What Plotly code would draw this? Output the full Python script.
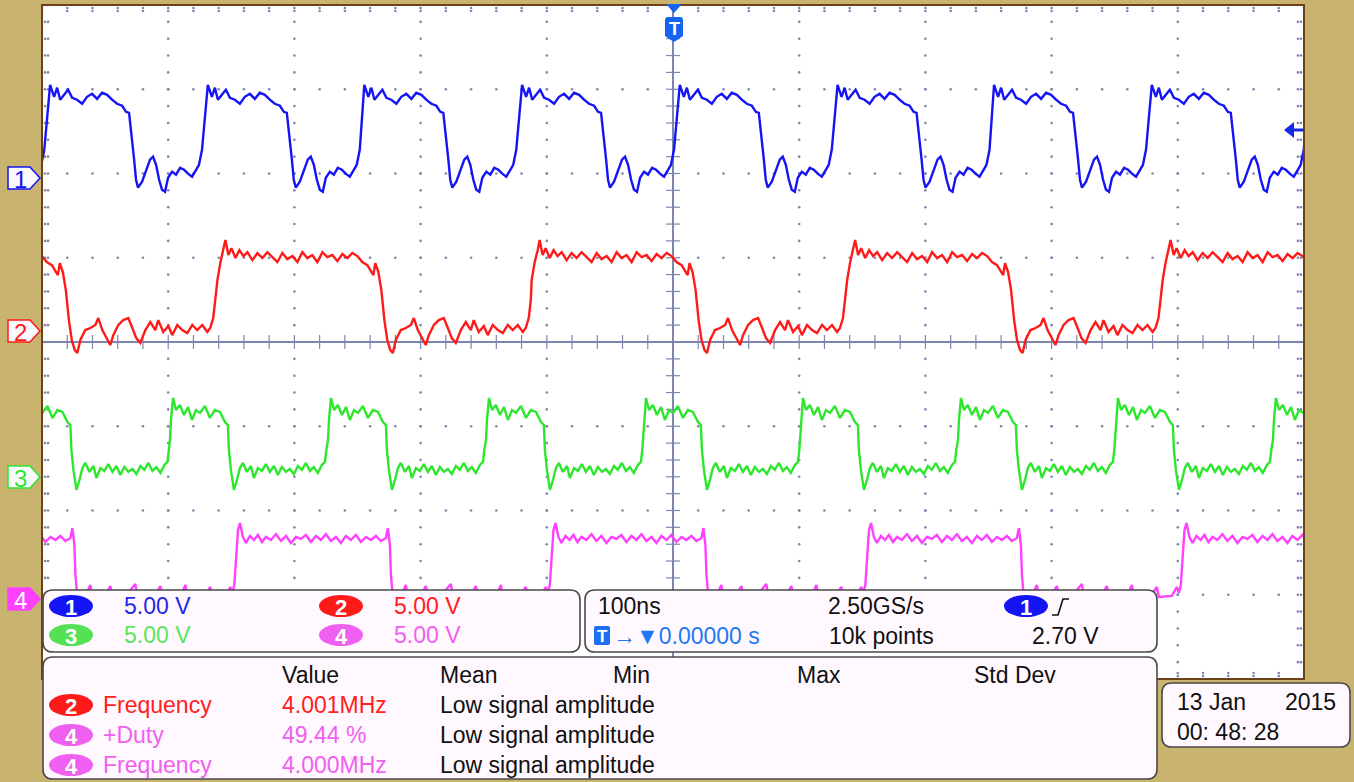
import plotly.graph_objects as go

# ---------------- data ----------------
# time in ns (100 ns/div, trigger at 0), voltage in V (5 V/div)
# one period of each channel, times relative to a rising edge (mid level)
ch1_tmpl_t = [-121.6, -118.4, -116.0, -113.6, -110.4, -107.3, -104.1, -100.2, -96.2, -92.3,
              -88.3, -84.3, -80.4, -76.4, -72.5, -68.5, -64.5, -61.4, -59.0, -57.4,
              -55.0, -53.5, -51.9, -48.7, -45.5, -42.4, -40.0, -37.6, -35.2, -32.9,
              -30.5, -28.1, -24.9, -21.8, -18.6, -15.4, -12.3, -9.1, -5.9, -3.6,
              -1.2, 0.4, 2.0]
ch1_tmpl_v = [5.51, 4.80, 5.34, 4.63, 4.92, 5.22, 4.74, 4.63, 4.39, 4.80,
              4.98, 4.68, 5.04, 4.92, 4.63, 4.39, 4.27, 3.91, 3.85, 2.85,
              1.07, -0.12, -0.59, -0.24, 0.47, 1.07, 1.25, 0.77, -0.12, -0.71,
              -0.83, 0.0, 0.36, 0.18, 0.59, 0.47, 0.24, 0.06, 0.47, 0.77,
              1.66, 3.14, 4.63]
ch1_rises = [-497, -372, -247, -123, 2, 127, 252, 376, 501]

ch2_tmpl_t = [0.0, 2.4, 4.8, 6.3, 8.7, 11.1, 14.3, 17.4, 20.6, 23.8, 27.7, 31.7, 35.6, 39.6,
              43.6, 47.5, 51.5, 55.4, 59.4, 63.4, 67.3, 71.3, 75.2, 79.2, 83.2, 87.1, 91.1,
              95.0, 99.0, 103.0, 106.9, 110.9, 114.8, 118.8, 121.2, 123.6, 125.1, 127.5,
              129.9, 132.3, 134.6, 137.0, 139.0, 141.4, 145.3, 149.3, 153.3, 155.6, 158.8,
              162.8, 165.1, 167.5, 171.5, 175.4, 179.4, 182.6, 185.7, 188.9, 192.9, 196.8,
              200.8, 203.1, 207.1, 211.1, 214.2, 218.2, 222.2, 226.1, 230.1, 234.0, 238.0,
              242.0, 244.3, 246.7, 248.3]
ch2_tmpl_v = [3.02, 4.09, 4.80, 5.40, 4.51, 4.92, 4.33, 4.80, 4.45, 4.68, 4.21, 4.63, 4.33, 4.68,
              4.39, 4.09, 4.63, 4.27, 4.45, 4.09, 4.68, 4.33, 4.51, 4.09, 4.68, 4.39, 4.51,
              4.15, 4.57, 4.33, 4.63, 4.45, 4.09, 3.91, 3.62, 3.32, 4.03, 3.50,
              2.43, 0.65, -0.53, -1.13, -1.30, -0.53, 0.06, 0.18, 0.36, 0.77, 0.06,
              -0.53, -0.83, -0.24, 0.36, 0.65, 0.77, 0.18, -0.42, -0.71, 0.06, 0.53,
              0.06, 0.65, -0.06, 0.30, -0.24, 0.36, 0.06, -0.12, 0.36, 0.06, 0.36,
              -0.06, 0.18, 0.77, 1.84]
ch2_rises = [-611, -361, -112, 138, 388]

ch3_tmpl_t = [0.0, 0.8, 2.4, 4.8, 7.9, 11.1, 14.3, 17.4, 20.6, 23.8, 27.7, 31.7, 35.6, 39.6,
              43.6, 45.9, 46.7, 48.3, 50.7, 53.1, 55.4, 57.8, 61.0, 64.2, 66.5, 69.7, 72.9,
              76.0, 79.2, 82.4, 85.5, 88.7, 91.9, 95.0, 98.2, 101.4, 104.5, 107.7, 110.9,
              114.0, 117.2, 120.4, 122.8, 123.9]
ch3_tmpl_v = [2.13, 3.32, 4.63, 3.91, 4.21, 3.62, 4.09, 3.32, 3.91, 3.74, 4.15, 3.44, 3.91, 3.80,
              3.20, 3.02, 1.54, 0.36, -0.83, -0.24, 0.47, 0.77, 0.24, 0.59, -0.12, 0.47, 0.30,
              0.71, 0.24, 0.59, 0.06, 0.53, 0.24, 0.42, 0.12, 0.59, 0.36, 0.77, 0.30,
              0.53, 0.18, 0.65, 0.83, 1.54]
ch3_rises = [-523.4, -398.6, -273.4, -148.2, -23.8, 100.6, 225.8, 350.2, 475.4]

ch4_tmpl_t = [0.0, 0.8, 1.6, 3.2, 5.5, 7.9, 11.1, 14.3, 17.4, 20.6, 23.8, 27.7, 31.7, 35.6,
              39.6, 43.6, 47.5, 51.5, 55.4, 59.4, 63.4, 67.3, 71.3, 75.2, 79.2, 83.2, 87.1,
              91.1, 95.0, 99.0, 103.0, 106.9, 110.9, 114.8, 118.8, 120.4, 122.0, 122.8, 124.3,
              130.7, 134.6, 136.2, 146.5, 150.5, 152.1, 162.4, 170.3, 171.9, 186.1, 190.1,
              191.7, 205.9, 209.9, 211.5, 225.7, 229.7, 231.3, 241.6, 245.5, 247.1, 248.7]
ch4_tmpl_v = [2.31, 3.50, 4.09, 4.51, 3.68, 3.32, 3.74, 3.50, 3.80, 3.38, 3.68, 3.50, 3.85, 3.44,
              3.74, 3.32, 3.68, 3.56, 3.80, 3.38, 3.74, 3.50, 3.85, 3.44, 3.68, 3.32, 3.74,
              3.50, 3.80, 3.38, 3.68, 3.50, 3.74, 3.44, 3.62, 4.21, 3.20, 1.42, 0.12,
              0.18, 0.83, 0.12, 0.24, 0.77, 0.12, 0.18, 0.89, 0.12, 0.24, 0.77,
              0.18, 0.12, 0.83, 0.18, 0.24, 0.71, 0.12, 0.18, 0.71, 0.36, 0.83]
ch4_rises = [-596.3, -346.3, -96.3, 153.7, 403.7]

channels = ["1", "2", "3", "4"]
volts_per_div = [5.0, 5.0, 5.0, 5.0]
ground_div = [1.95, 0.13, -1.59, -3.05]       # channel ground marker positions (divisions)
trace_colors = ["#1414F5", "#FF1A1A", "#2EE62E", "#FF40FF"]
text_colors = ["#1E28E6", "#FF2020", "#5AE65A", "#F060F0"]

meas_src = ["2", "4", "4"]
meas_name = ["Frequency", "+Duty", "Frequency"]
meas_value = ["4.001MHz", "49.44 %", "4.000MHz"]
meas_mean = ["Low signal amplitude"] * 3
meas_headers = ["Value", "Mean", "Min", "Max", "Std Dev"]

# ---------------- geometry helpers ----------------
PL, PR, PT, PB = 42, 1304, 5, 679
W, H = PR - PL, PB - PT


def xp(px):
    return (px - PL) / W


def yp(py):
    return (PB - py) / H


def build(rises, tt, tv, ch):
    t, v = [], []
    for r in rises:
        for a, b in zip(tt, tv):
            t.append(r + a)
            v.append(ground_div[ch] + b / volts_per_div[ch])
    return t, v


fig = go.Figure()

# ---------------- graticule dots ----------------
dot_x, dot_y = [], []
for k in range(-4, 5):
    if k == 0:
        continue
    for j in range(41):
        dot_x.append(k * 100)
        dot_y.append(-4 + 0.2 * j)
for k in range(-3, 4):
    if k == 0:
        continue
    for j in range(51):
        dot_x.append(-500 + 20 * j)
        dot_y.append(k)
# edge ticks
for j in range(41):
    yy = -4 + 0.2 * j
    for xx in (-497.6, -495.2, 495.2, 497.6):
        dot_x.append(xx)
        dot_y.append(yy)
for j in range(51):
    xx = -500 + 20 * j
    for yy in (3.964, 3.929, -3.929, -3.964):
        dot_x.append(xx)
        dot_y.append(yy)
fig.add_trace(go.Scatter(x=dot_x, y=dot_y, mode="markers",
                         marker=dict(size=2.6, color="#7E86B0"), hoverinfo="skip"))
# center-line ticks
fig.add_trace(go.Scatter(x=[-500 + 20 * j for j in range(51)], y=[0] * 51, mode="markers",
                         marker=dict(symbol="line-ns", size=10, line=dict(width=1.2, color="#7E86B0")),
                         hoverinfo="skip"))
fig.add_trace(go.Scatter(x=[0] * 41, y=[-4 + 0.2 * j for j in range(41)], mode="markers",
                         marker=dict(symbol="line-ew", size=10, line=dict(width=1.2, color="#7E86B0")),
                         hoverinfo="skip"))

# ---------------- waveforms ----------------
for ch, (rises, tt, tv) in enumerate([(ch1_rises, ch1_tmpl_t, ch1_tmpl_v),
                                       (ch2_rises, ch2_tmpl_t, ch2_tmpl_v),
                                       (ch3_rises, ch3_tmpl_t, ch3_tmpl_v),
                                       (ch4_rises, ch4_tmpl_t, ch4_tmpl_v)]):
    t, v = build(rises, tt, tv, ch)
    fig.add_trace(go.Scatter(x=t, y=v, mode="lines",
                             line=dict(color=trace_colors[ch], width=2.4), hoverinfo="skip"))

shapes = []
ann = []


def P(px, py):
    return f"{xp(px):.5f},{yp(py):.5f}"


def path(points, close=True):
    s = "M " + " L ".join(P(a, b) for a, b in points)
    return s + (" Z" if close else "")


def rrect(x0, y0, x1, y1, r):
    return ("M " + P(x0 + r, y0) + " L " + P(x1 - r, y0) + " Q " + P(x1, y0) + " " + P(x1, y0 + r) +
            " L " + P(x1, y1 - r) + " Q " + P(x1, y1) + " " + P(x1 - r, y1) +
            " L " + P(x0 + r, y1) + " Q " + P(x0, y1) + " " + P(x0, y1 - r) +
            " L " + P(x0, y0 + r) + " Q " + P(x0, y0) + " " + P(x0 + r, y0) + " Z")


def text(px, py, s, color="#101010", size=23, anchor="left", bold=False):
    if bold:
        s = "<b>" + s + "</b>"
    ann.append(dict(x=xp(px), y=yp(py), xref="paper", yref="paper", text=s, showarrow=False,
                    xanchor=anchor, yanchor="middle",
                    font=dict(family="Liberation Sans, Arial, sans-serif", size=size, color=color)))


def badge(cx, cy, label, color):
    shapes.append(dict(type="circle", xref="paper", yref="paper", x0=xp(cx - 22), x1=xp(cx + 22),
                       y0=yp(cy + 11), y1=yp(cy - 11), fillcolor=color, line=dict(width=0),
                       layer="above"))
    text(cx, cy + 1, label, "white", 22, "center", True)


# center crosshair
shapes.append(dict(type="line", xref="x", yref="paper", x0=0, x1=0, y0=0, y1=1,
                   line=dict(color="#7E86B0", width=2), layer="below"))
shapes.append(dict(type="line", xref="paper", yref="y", x0=0, x1=1, y0=0, y1=0,
                   line=dict(color="#7E86B0", width=2), layer="below"))

# frame
shapes.append(dict(type="rect", xref="paper", yref="paper", x0=0, x1=1, y0=0, y1=1,
                   line=dict(color="#6E4218", width=2), layer="above"))

# channel ground markers
for ch, py in zip(range(4), [178, 331, 477, 599]):
    filled = ch == 3
    shapes.append(dict(type="path", xref="paper", yref="paper",
                       path=path([(8, py - 11), (30, py - 11), (40, py), (30, py + 11), (8, py + 11)]),
                       fillcolor=trace_colors[ch] if filled else "#FAFAFF",
                       line=dict(color=trace_colors[ch], width=1.5), layer="above"))
    text(20, py + 1, channels[ch], "white" if filled else trace_colors[ch], 24, "center")

# trigger position marker (top)
shapes.append(dict(type="path", xref="paper", yref="paper",
                   path=path([(666, 4), (682, 4), (674, 13)]), fillcolor="#1464F0",
                   line=dict(width=0), layer="above"))
shapes.append(dict(type="path", xref="paper", yref="paper",
                   path="M " + P(665, 20) + " Q " + P(665, 17) + " " + P(668, 17) + " L " + P(680, 17) +
                        " Q " + P(683, 17) + " " + P(683, 20) + " L " + P(683, 36) + " L " + P(674, 42) +
                        " L " + P(665, 36) + " Z",
                   fillcolor="#1464F0", line=dict(width=0), layer="above"))
text(674, 29, "T", "white", 18, "center", True)

# trigger level arrow (right)
shapes.append(dict(type="path", xref="paper", yref="paper",
                   path=path([(1284, 130), (1294, 122), (1294, 138)]), fillcolor="#1428E6",
                   line=dict(width=0), layer="above"))
shapes.append(dict(type="line", xref="paper", yref="paper", x0=xp(1292), x1=xp(1304),
                   y0=yp(130), y1=yp(130), line=dict(color="#1428E6", width=3), layer="above"))

# info boxes
BOX_FILL = "#FFF8FF"
BOX_LINE = dict(color="#4A4A4A", width=1.6)
for (x0, y0, x1, y1) in [(43, 590, 580, 652), (585, 590, 1157, 652), (43, 657, 1157, 779),
                         (1162, 683, 1350, 747)]:
    shapes.append(dict(type="path", xref="paper", yref="paper", path=rrect(x0, y0, x1, y1, 10),
                       fillcolor=BOX_FILL, line=BOX_LINE, layer="above"))

# channel scale box
badge(71, 606, channels[0], trace_colors[0])
text(122, 606, f"{volts_per_div[0]:.2f} V", text_colors[0])
badge(341, 606, channels[1], trace_colors[1])
text(392, 606, f"{volts_per_div[1]:.2f} V", text_colors[1])
badge(71, 635, channels[2], "#55E055")
text(122, 635, f"{volts_per_div[2]:.2f} V", text_colors[2])
badge(341, 635, channels[3], "#F060F0")
text(392, 635, f"{volts_per_div[3]:.2f} V", text_colors[3])

# timebase box
text(596, 606, "100ns")
text(826, 606, "2.50GS/s")
badge(1026, 606, "1", trace_colors[0])
shapes.append(dict(type="path", xref="paper", yref="paper",
                   path=path([(1052, 615), (1058, 615), (1063, 599), (1069, 599)], close=False),
                   line=dict(color="#101010", width=1.6), layer="above"))
shapes.append(dict(type="path", xref="paper", yref="paper", path=rrect(594, 626, 610, 645, 2),
                   fillcolor="#1E6EF0", line=dict(width=0), layer="above"))
text(602, 636, "T", "white", 17, "center", True)
text(611, 636, "→▼0.00000 s", "#1E78F0")
text(827, 636, "10k points")
text(1030, 636, "2.70 V")

# measurement box
for hx, h, anc in zip([280, 438, 652, 795, 972], meas_headers, ["left", "left", "right", "left", "left"]):
    text(hx, 675, h, anchor=anc)
for i in range(3):
    cy = 705 + 30 * i
    col = text_colors[1] if meas_src[i] == "2" else text_colors[3]
    badge(71, cy, meas_src[i], trace_colors[1] if meas_src[i] == "2" else "#F060F0")
    text(101, cy, meas_name[i], col)
    text(280, cy, meas_value[i], col)
    text(438, cy, meas_mean[i])

# date box
text(1175, 702, "13 Jan")
text(1338, 702, "2015", anchor="right")
text(1175, 732, "00: 48: 28")

fig.update_layout(
    width=1354, height=782,
    margin=dict(l=PL, r=1354 - PR, t=PT, b=782 - PB),
    paper_bgcolor="#C8B46E", plot_bgcolor="#FFFFFF",
    showlegend=False,
    xaxis=dict(range=[-500, 500], showgrid=False, zeroline=False, showticklabels=False,
               ticks="", showline=False, fixedrange=True),
    yaxis=dict(range=[-4, 4], showgrid=False, zeroline=False, showticklabels=False,
               ticks="", showline=False, fixedrange=True),
    shapes=shapes, annotations=ann,
)

fig.write_html("out.html", config=dict(displayModeBar=False),
               post_script="document.body.style.margin='0';document.body.style.overflow='hidden';")
